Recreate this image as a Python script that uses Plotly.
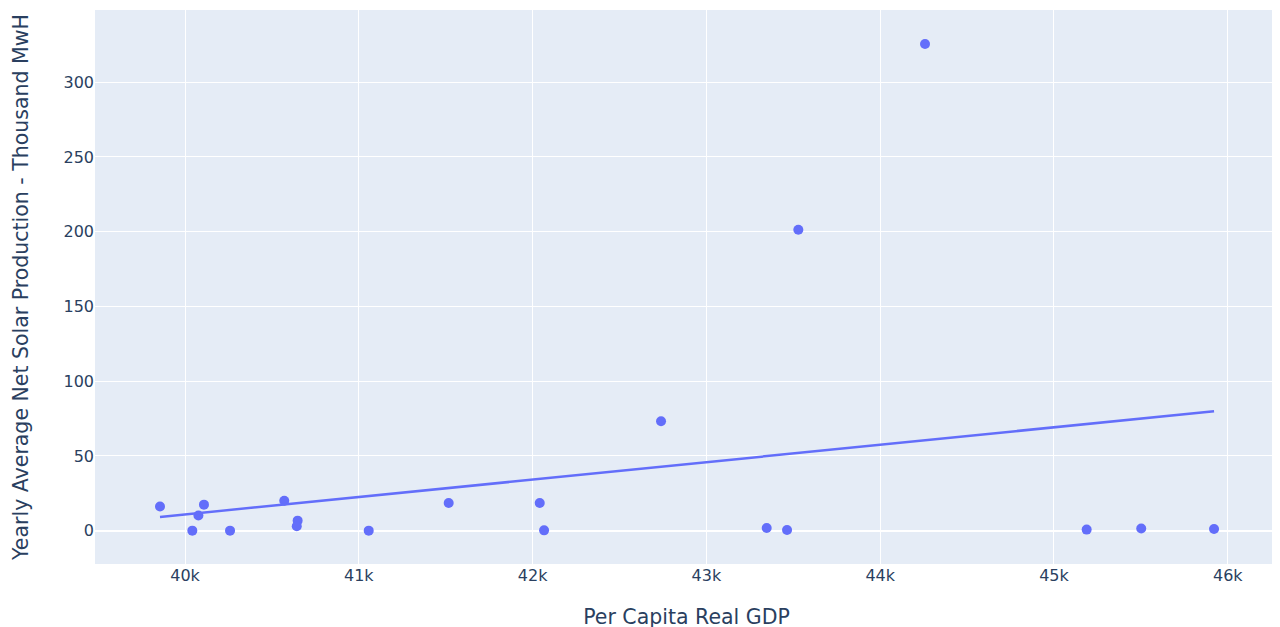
import numpy as np
import plotly.graph_objects as go

gdp = [39856, 40042, 40077, 40109, 40259, 40571, 40648, 40643, 41057, 41517,
       42041, 42066, 42739, 43347, 43464, 43529, 44258, 45188, 45502, 45921]
solar = [16.2, 0.0, 10.2, 17.4, 0.0, 20.0, 6.7, 2.9, 0.0, 18.5,
         18.5, 0.2, 73.2, 1.8, 0.5, 201.3, 325.5, 0.7, 1.5, 1.1]

x = np.array(gdp, dtype=float)
y = np.array(solar, dtype=float)
slope, intercept = np.polyfit(x, y, 1)
order = np.argsort(x)
xs = x[order]
ys = slope * xs + intercept

fig = go.Figure()
fig.add_trace(go.Scatter(x=x, y=y, mode="markers",
                         marker=dict(color="#636efa", size=10), showlegend=False))
fig.add_trace(go.Scatter(x=xs, y=ys, mode="lines",
                         line=dict(color="#636efa", width=2.5), showlegend=False))

fig.update_layout(
    template="plotly",
    width=1280, height=627,
    margin=dict(l=87, r=10, t=2, b=71),
    font=dict(family="DejaVu Sans, Verdana, sans-serif", size=16, color="#2a3f5f"),
    xaxis=dict(title=dict(text="Per Capita Real GDP", font=dict(size=20.5), standoff=25),
               range=[39482, 46289], tickfont=dict(size=16)),
    yaxis=dict(title=dict(text="Yearly Average Net Solar Production - Thousand MwH", font=dict(size=20.5), standoff=29),
               range=[-22.3, 348.3], tickfont=dict(size=16)),
)
fig.write_html("out.html")
